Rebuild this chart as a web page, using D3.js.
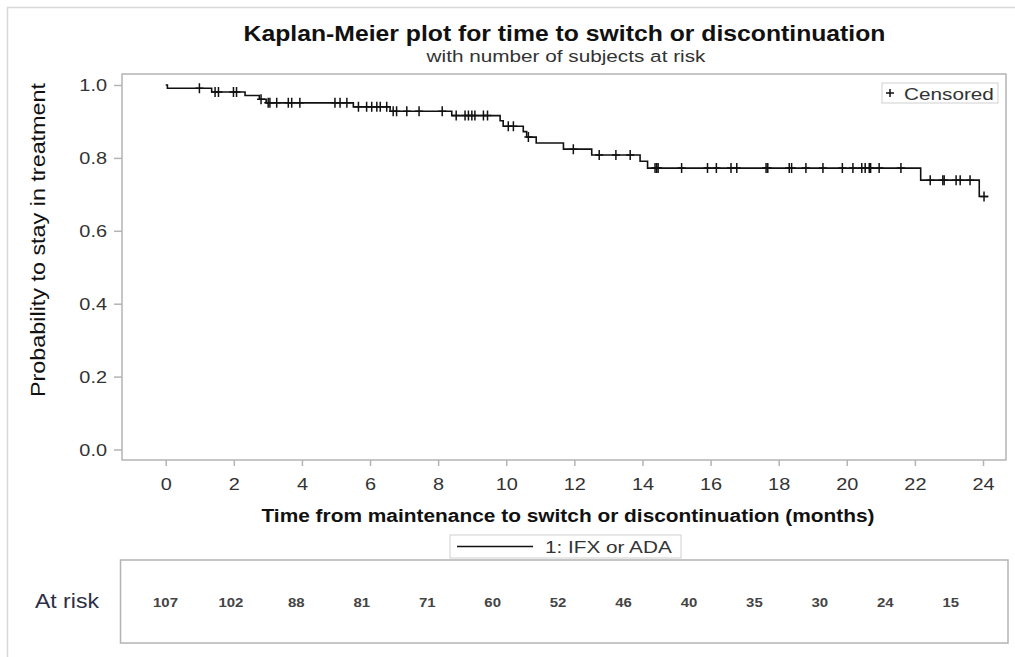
<!DOCTYPE html>
<html><head><meta charset="utf-8">
<script src="https://cdn.jsdelivr.net/npm/d3@7"></script>
<style>body{margin:0;background:#fff}svg{display:block}text{font-family:"Liberation Sans",Arial,sans-serif}</style>
</head><body>
<script>
// ---- data ----
const stepTimes = [0, 0.05, 1.35, 2.33, 2.75, 2.95, 5.51, 6.59, 8.40, 9.82, 9.91, 10.50, 10.60, 10.88, 11.68, 12.51, 13.93, 14.15, 22.17, 23.89];
const survival  = [1.0, 0.991, 0.981, 0.971, 0.961, 0.951, 0.940, 0.928, 0.916, 0.902, 0.887, 0.872, 0.857, 0.841, 0.824, 0.808, 0.791, 0.772, 0.739, 0.694];
const endTime = 24.16;
const censorTimes = [0.99, 1.45, 1.55, 1.99, 2.08, 2.80, 3.01, 3.06, 3.26, 3.60, 3.70, 3.94, 4.97, 5.12, 5.32, 5.66, 5.90, 6.05, 6.20, 6.30, 6.49, 6.68, 6.78, 7.08, 7.44, 8.12, 8.53, 8.79, 8.89, 8.99, 9.08, 9.33, 9.45, 10.06, 10.21, 10.65, 11.97, 12.73, 13.22, 13.64, 14.37, 14.42, 14.46, 15.15, 15.91, 16.17, 16.60, 16.77, 17.63, 17.68, 18.31, 18.38, 18.80, 19.30, 19.87, 20.18, 20.44, 20.54, 20.66, 20.70, 20.95, 21.59, 22.45, 22.82, 22.86, 23.21, 23.33, 23.62, 24.03];
const xTicks = [0, 2, 4, 6, 8, 10, 12, 14, 16, 18, 20, 22, 24];
const yTicks = [0.0, 0.2, 0.4, 0.6, 0.8, 1.0];
const riskTimes = [0, 2, 4, 6, 8, 10, 12, 14, 16, 18, 20, 22, 24];
const atRisk = [107, 102, 88, 81, 71, 60, 52, 46, 40, 35, 30, 24, 15];

const title = "Kaplan-Meier plot for time to switch or discontinuation";
const subtitle = "with number of subjects at risk";
const xTitle = "Time from maintenance to switch or discontinuation (months)";
const yTitle = "Probability to stay in treatment";
const groupLabel = "1: IFX or ADA";

// ---- layout ----
const W = 1015, H = 657;
const frame = {l: 122, r: 1006, t: 74, b: 460};
const x = d3.scaleLinear().domain([0, 24]).range([165.7, 983]);
const y = d3.scaleLinear().domain([0, 1]).range([449.5, 85]);
const xr = d3.scaleLinear().domain([0, 24]).range([165.5, 950.7]);
const gray = "#b4b4b4", txt = "#333";
const SX = 1.17; // horizontal stretch of the original picture

const svg = d3.select("body").append("svg").attr("width", W).attr("height", H);

function stext(px, py, str, size, opts = {}) {
  const t = svg.append("text")
    .attr("transform", `translate(${px},${py}) scale(${opts.sx || SX},1)`)
    .attr("font-size", size).attr("fill", opts.fill || txt)
    .attr("text-anchor", opts.anchor || "start").text(str);
  if (opts.bold) t.attr("font-weight", "bold");
  return t;
}

// outer border
svg.append("path").attr("d", `M7.5,${H}V7.5H${W}`).attr("fill", "none").attr("stroke", "#d8d8d8").attr("stroke-width", 1.5);

// titles
stext(564.5, 41, title, 22, {anchor: "middle", bold: true, fill: "#111", sx: 1.125});
stext(566, 62, subtitle, 17, {anchor: "middle", sx: 1.22});

// frame
svg.append("rect").attr("x", frame.l).attr("y", frame.t).attr("width", frame.r - frame.l).attr("height", frame.b - frame.t)
  .attr("fill", "none").attr("stroke", gray).attr("stroke-width", 1.5);

// axes
const gx = svg.append("g").attr("transform", `translate(0,${frame.b})`)
  .call(d3.axisBottom(x).tickValues(xTicks).tickFormat(d3.format("d")).tickSize(6).tickSizeOuter(0));
const gy = svg.append("g").attr("transform", `translate(${frame.l},0)`)
  .call(d3.axisLeft(y).tickValues(yTicks).tickFormat(d3.format(".1f")).tickSize(8).tickSizeOuter(0));
[gx, gy].forEach(g => {
  g.select(".domain").remove();
  g.selectAll(".tick line").attr("stroke", gray).attr("stroke-width", 1.5);
  g.selectAll(".tick text").attr("fill", txt).attr("font-size", 17)
   .style("font-family", '"Liberation Sans",Arial,sans-serif');
});
gx.selectAll(".tick text").attr("y", 0).attr("dy", 0)
  .attr("transform", `translate(0,${490 - frame.b}) scale(${SX},1)`);
gy.selectAll(".tick text").attr("x", 0).attr("dy", "0.35em")
  .attr("transform", `translate(-15,0) scale(${SX},1)`);

// axis titles
stext(568, 522, xTitle, 18, {anchor: "middle", bold: true, fill: "#111", sx: 1.16});
svg.append("text").attr("transform", "translate(45,240) rotate(-90)").attr("text-anchor", "middle")
  .attr("font-size", 20).attr("fill", "#111").attr("textLength", 314).attr("lengthAdjust", "spacingAndGlyphs").text(yTitle);

// KM step line
const pts = stepTimes.map((t, i) => [t, survival[i]]);
pts.push([endTime, survival[survival.length - 1]]);
const line = d3.line().x(d => x(d[0])).y(d => y(d[1])).curve(d3.curveStepAfter);
svg.append("path").attr("d", line(pts)).attr("fill", "none").attr("stroke", "#111").attr("stroke-width", 1.6);

// censor marks
const survAt = t => { let s = survival[0]; for (let i = 0; i < stepTimes.length; i++) if (stepTimes[i] <= t) s = survival[i]; return s; };
const cm = svg.append("g").attr("stroke", "#111").attr("stroke-width", 1.5);
censorTimes.forEach(t => {
  const cx = x(t), cy = y(survAt(t));
  cm.append("path").attr("d", `M${cx - 4},${cy}H${cx + 4}M${cx},${cy - 5}V${cy + 5}`);
});

// censored legend
svg.append("rect").attr("x", 882).attr("y", 83).attr("width", 116).attr("height", 20)
  .attr("fill", "#fff").attr("stroke", "#cfcfcf").attr("stroke-width", 1);
svg.append("path").attr("d", "M886,93H894M890,89V97").attr("stroke", "#111").attr("stroke-width", 1.5);
stext(904, 99.5, "Censored", 17, {sx: 1.22});

// group legend
svg.append("rect").attr("x", 450).attr("y", 535).attr("width", 231).attr("height", 23)
  .attr("fill", "#fff").attr("stroke", "#cfcfcf").attr("stroke-width", 1);
svg.append("line").attr("x1", 457).attr("x2", 533).attr("y1", 546.5).attr("y2", 546.5).attr("stroke", "#111").attr("stroke-width", 1.5);
stext(545, 553, groupLabel, 17, {sx: 1.22});

// at-risk table
svg.append("rect").attr("x", 120.5).attr("y", 560).attr("width", 887.5).attr("height", 83)
  .attr("fill", "none").attr("stroke", gray).attr("stroke-width", 1.5);
stext(35, 608, "At risk", 20, {fill: "#2a2f45", sx: 1.15});
riskTimes.forEach((t, i) => {
  stext(xr(t), 606.5, atRisk[i], 13, {anchor: "middle", bold: true, fill: "#444", sx: 1.15});
});
</script>
</body></html>
